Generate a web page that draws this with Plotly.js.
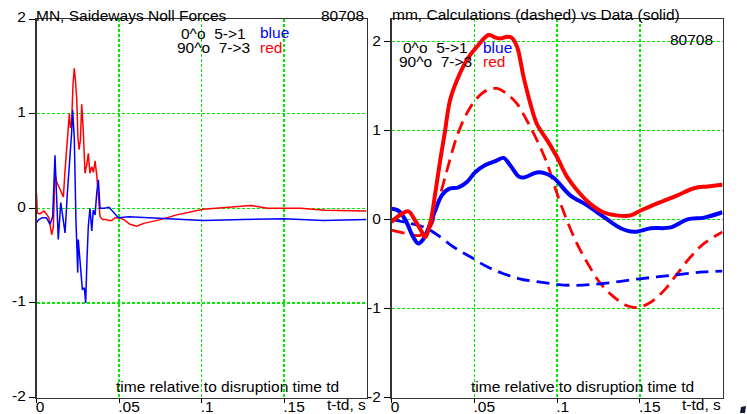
<!DOCTYPE html>
<html>
<head>
<meta charset="utf-8">
<script src="https://cdn.plot.ly/plotly-3.0.1.min.js"></script>
<style>html,body{margin:0;padding:0;background:#fff;}#chart{width:747px;height:414px;}</style>
</head>
<body>
<div id="chart"></div>
<script>
// ---- Left panel: MN, sideways Noll forces ----
const leftRedT = [0.0000,0.0005,0.0020,0.0035,0.0045,0.0060,0.0075,0.0092,0.0102,0.0112,0.0122,0.0132,0.0142,0.0152,0.0163,0.0173,0.0183,0.0199,0.0206,0.0213,0.0221,0.0229,0.0236,0.0244,0.0251,0.0258,0.0266,0.0274,0.0284,0.0294,0.0304,0.0314,0.0324,0.0335,0.0345,0.0355,0.0365,0.0375,0.0385,0.0400,0.0420,0.0440,0.0456,0.0476,0.0500,0.0530,0.0566,0.0607,0.0650,0.0750,0.0850,0.1010,0.1150,0.1300,0.1400,0.1600,0.1750,0.1900,0.2000];
const leftRedV = [0.16,-0.05,-0.06,-0.04,-0.03,-0.06,-0.10,-0.28,-0.20,0.37,0.28,0.24,0.20,0.15,0.12,0.40,0.65,1.00,0.85,0.90,1.30,1.48,1.35,1.15,0.75,0.62,0.72,1.10,0.80,0.37,0.45,0.58,0.37,0.44,0.38,0.50,0.35,0.12,-0.09,-0.12,-0.12,-0.13,-0.13,-0.10,-0.10,-0.12,-0.17,-0.19,-0.16,-0.12,-0.07,-0.01,0.01,0.03,0.00,0.00,-0.02,-0.03,-0.03];

const leftBlueT = [0.0000,0.0015,0.0035,0.0060,0.0082,0.0098,0.0112,0.0122,0.0132,0.0147,0.0159,0.0173,0.0187,0.0199,0.0213,0.0219,0.0229,0.0239,0.0250,0.0253,0.0264,0.0278,0.0290,0.0298,0.0306,0.0314,0.0324,0.0335,0.0344,0.0355,0.0365,0.0375,0.0385,0.0410,0.0440,0.0460,0.0476,0.0496,0.0560,0.0750,0.1010,0.1250,0.1500,0.1740,0.2000];
const leftBlueV = [-0.15,-0.12,-0.10,-0.10,-0.17,-0.09,0.56,0.16,-0.33,0.06,-0.09,-0.26,0.16,0.44,0.80,1.04,0.74,-0.12,-0.68,-0.33,-0.54,-0.86,-0.84,-1.00,-0.54,-0.19,0.00,-0.24,-0.02,-0.07,0.16,0.30,0.00,0.00,0.01,-0.03,-0.06,-0.10,-0.09,-0.11,-0.13,-0.12,-0.11,-0.13,-0.12];

// ---- Right panel: mm, calculations (dashed) vs data (solid) ----
const rRedSolidT = [0.0000,0.0052,0.0102,0.0142,0.0183,0.0203,0.0233,0.0264,0.0294,0.0320,0.0354,0.0395,0.0455,0.0516,0.0587,0.0630,0.0657,0.0700,0.0725,0.0758,0.0798,0.0839,0.0879,0.0940,0.1000,0.1060,0.1120,0.1198,0.1280,0.1360,0.1445,0.1506,0.1606,0.1727,0.1828,0.1909,0.2000];
const rRedSolidV = [-0.03,0.05,0.09,-0.01,-0.14,-0.20,-0.05,0.29,0.66,0.95,1.34,1.56,1.79,1.94,2.07,2.04,2.03,2.05,2.04,1.94,1.60,1.30,1.07,0.89,0.70,0.48,0.33,0.18,0.08,0.045,0.045,0.10,0.18,0.27,0.35,0.37,0.39];

const rBlueSolidT = [0.0000,0.0040,0.0082,0.0132,0.0162,0.0193,0.0223,0.0264,0.0304,0.0344,0.0405,0.0456,0.0506,0.0567,0.0635,0.0677,0.0720,0.0770,0.0798,0.0889,0.0970,0.1080,0.1180,0.1280,0.1385,0.1465,0.1566,0.1687,0.1788,0.1890,0.2000];
const rBlueSolidV = [0.12,0.10,0.00,-0.20,-0.27,-0.22,-0.10,0.10,0.27,0.34,0.36,0.42,0.53,0.61,0.66,0.69,0.60,0.48,0.47,0.53,0.48,0.27,0.16,0.03,-0.10,-0.14,-0.10,-0.09,0.00,0.02,0.08];

const rRedDashT = [0.0000,0.0092,0.0173,0.0233,0.0274,0.0335,0.0395,0.0455,0.0516,0.0576,0.0637,0.0697,0.0758,0.0818,0.0879,0.0940,0.1000,0.1060,0.1120,0.1184,0.1263,0.1343,0.1424,0.1485,0.1566,0.1646,0.1727,0.1808,0.1889,0.2000];
const rRedDashV = [-0.12,-0.16,-0.18,-0.09,0.14,0.55,0.93,1.19,1.36,1.45,1.47,1.41,1.30,1.11,0.89,0.63,0.29,-0.01,-0.27,-0.49,-0.72,-0.87,-0.97,-0.99,-0.93,-0.80,-0.61,-0.42,-0.27,-0.14];

const rBlueDashT = [0.0000,0.0100,0.0200,0.0274,0.0375,0.0476,0.0576,0.0677,0.0780,0.0879,0.1080,0.1280,0.1485,0.1687,0.1890,0.2000];
const rBlueDashV = [0.00,-0.04,-0.09,-0.17,-0.31,-0.42,-0.53,-0.61,-0.67,-0.70,-0.74,-0.72,-0.67,-0.63,-0.59,-0.58];

const xTickVals = [0, 0.05, 0.1, 0.15];
const xTickText = ['0', '.05', '.1', '.15'];
const yTickVals = [-2, -1, 0, 1, 2];
const yTickText = ['-2', '-1', '0', '1', '2'];

const W = 747, H = 414;
const px = x => x / W;
const py = y => 1 - y / H;
const FONT = 'Liberation Sans, Arial, Helvetica, sans-serif';
const FS = 15.5;
const GRID = 'rgb(0,235,0)';

const traces = [
  {x: leftRedT, y: leftRedV, xaxis: 'x', yaxis: 'y', mode: 'lines', line: {color: 'rgb(255,0,0)', width: 1.5}},
  {x: leftBlueT, y: leftBlueV, xaxis: 'x', yaxis: 'y', mode: 'lines', line: {color: 'rgb(0,0,255)', width: 1.5}},
  {x: rRedDashT, y: rRedDashV, xaxis: 'x2', yaxis: 'y2', mode: 'lines', line: {color: 'rgb(255,0,0)', width: 2.8, dash: '13px,7px', shape: 'spline'}},
  {x: rBlueDashT, y: rBlueDashV, xaxis: 'x2', yaxis: 'y2', mode: 'lines', line: {color: 'rgb(0,0,255)', width: 2.8, dash: '13px,7px', shape: 'spline'}},
  {x: rBlueSolidT, y: rBlueSolidV, xaxis: 'x2', yaxis: 'y2', mode: 'lines', line: {color: 'rgb(0,0,255)', width: 4, shape: 'spline'}},
  {x: rRedSolidT, y: rRedSolidV, xaxis: 'x2', yaxis: 'y2', mode: 'lines', line: {color: 'rgb(255,0,0)', width: 4, shape: 'spline'}}
];

function xAxis(domain, anchor) {
  return {
    domain: domain, anchor: anchor, range: [0, 0.2], fixedrange: true,
    tickmode: 'array', tickvals: xTickVals, ticktext: xTickText,
    ticks: 'outside', ticklen: 4, tickwidth: 1, tickcolor: '#000',
    ticklabelposition: 'outside right', ticklabelstandoff: -6, ticklabelshift: -2,
    tickfont: {family: FONT, size: FS, color: '#000'},
    showgrid: true, gridcolor: GRID, griddash: '3px,2px', gridwidth: 1.5,
    zeroline: false, showline: true, linecolor: '#333', linewidth: 1.5, mirror: true
  };
}
function yAxis(domain, anchor, range, shift) {
  return {
    domain: domain, anchor: anchor, range: range, fixedrange: true,
    tickmode: 'array', tickvals: yTickVals, ticktext: yTickText,
    ticks: 'outside', ticklen: 6, tickwidth: 1, tickcolor: '#000',
    ticklabelshift: shift,
    tickfont: {family: FONT, size: FS, color: '#000'},
    showgrid: true, gridcolor: GRID, griddash: '3px,2px', gridwidth: 1.5,
    zeroline: false, showline: true, linecolor: '#333', linewidth: 1.5, mirror: true
  };
}

function ann(text, x, y, xanchor, color) {
  return {text: text, x: px(x), y: py(y), xref: 'paper', yref: 'paper', xanchor: xanchor, yanchor: 'middle',
    showarrow: false, font: {family: FONT, size: FS, color: color || '#000'}, borderpad: 0};
}

const annotations = [
  ann('MN, Saideways Noll Forces', 35, 15.5, 'left'),
  ann('80708', 365, 15.5, 'right'),
  ann('0^o  5->1', 213, 33, 'center'),
  ann('blue', 259, 32.5, 'left', 'rgb(0,0,255)'),
  ann('90^o  7->3', 213, 48, 'center'),
  ann('red', 259, 47.5, 'left', 'rgb(255,0,0)'),
  ann('time relative to disruption time td', 227, 386.5, 'center'),
  ann('t-td, s', 367, 404.5, 'right'),

  ann('mm, Calculations (dashed) vs Data (solid)', 391, 14, 'left'),
  ann('80708', 714, 40, 'right'),
  ann('0^o  5->1', 435, 47.5, 'center'),
  ann('blue', 482, 47.5, 'left', 'rgb(0,0,255)'),
  ann('90^o  7->3', 435, 61.5, 'center'),
  ann('red', 482, 61.5, 'left', 'rgb(255,0,0)'),
  ann('time relative to disruption time td', 582, 386.5, 'center'),
  ann('t-td, s', 722, 404.5, 'right')
];

const layout = {
  width: W, height: H, autosize: false,
  margin: {l: 0, r: 0, t: 0, b: 0, pad: 0},
  paper_bgcolor: '#fff', plot_bgcolor: '#fff',
  showlegend: false,
  font: {family: FONT, size: FS, color: '#000'},
  xaxis: xAxis([px(36.5), px(366.5)], 'y'),
  yaxis: yAxis([py(397.5), py(19)], 'x', [-2, 2], -2),
  xaxis2: xAxis([px(391.5), px(722.5)], 'y2'),
  yaxis2: yAxis([py(397.5), py(19)], 'x2', [-2, 2.25], -1),
  annotations: annotations,
  shapes: [
    {type: 'path', xref: 'paper', yref: 'paper',
     path: 'M ' + px(740) + ' ' + py(413) + ' L ' + px(745) + ' ' + py(413) + ' L ' + px(746) + ' ' + py(406) + ' L ' + px(741) + ' ' + py(407) + ' Z',
     fillcolor: '#111833', line: {width: 0}}
  ]
};

Plotly.newPlot('chart', traces, layout, {staticPlot: true, displayModeBar: false});
</script>
</body>
</html>
